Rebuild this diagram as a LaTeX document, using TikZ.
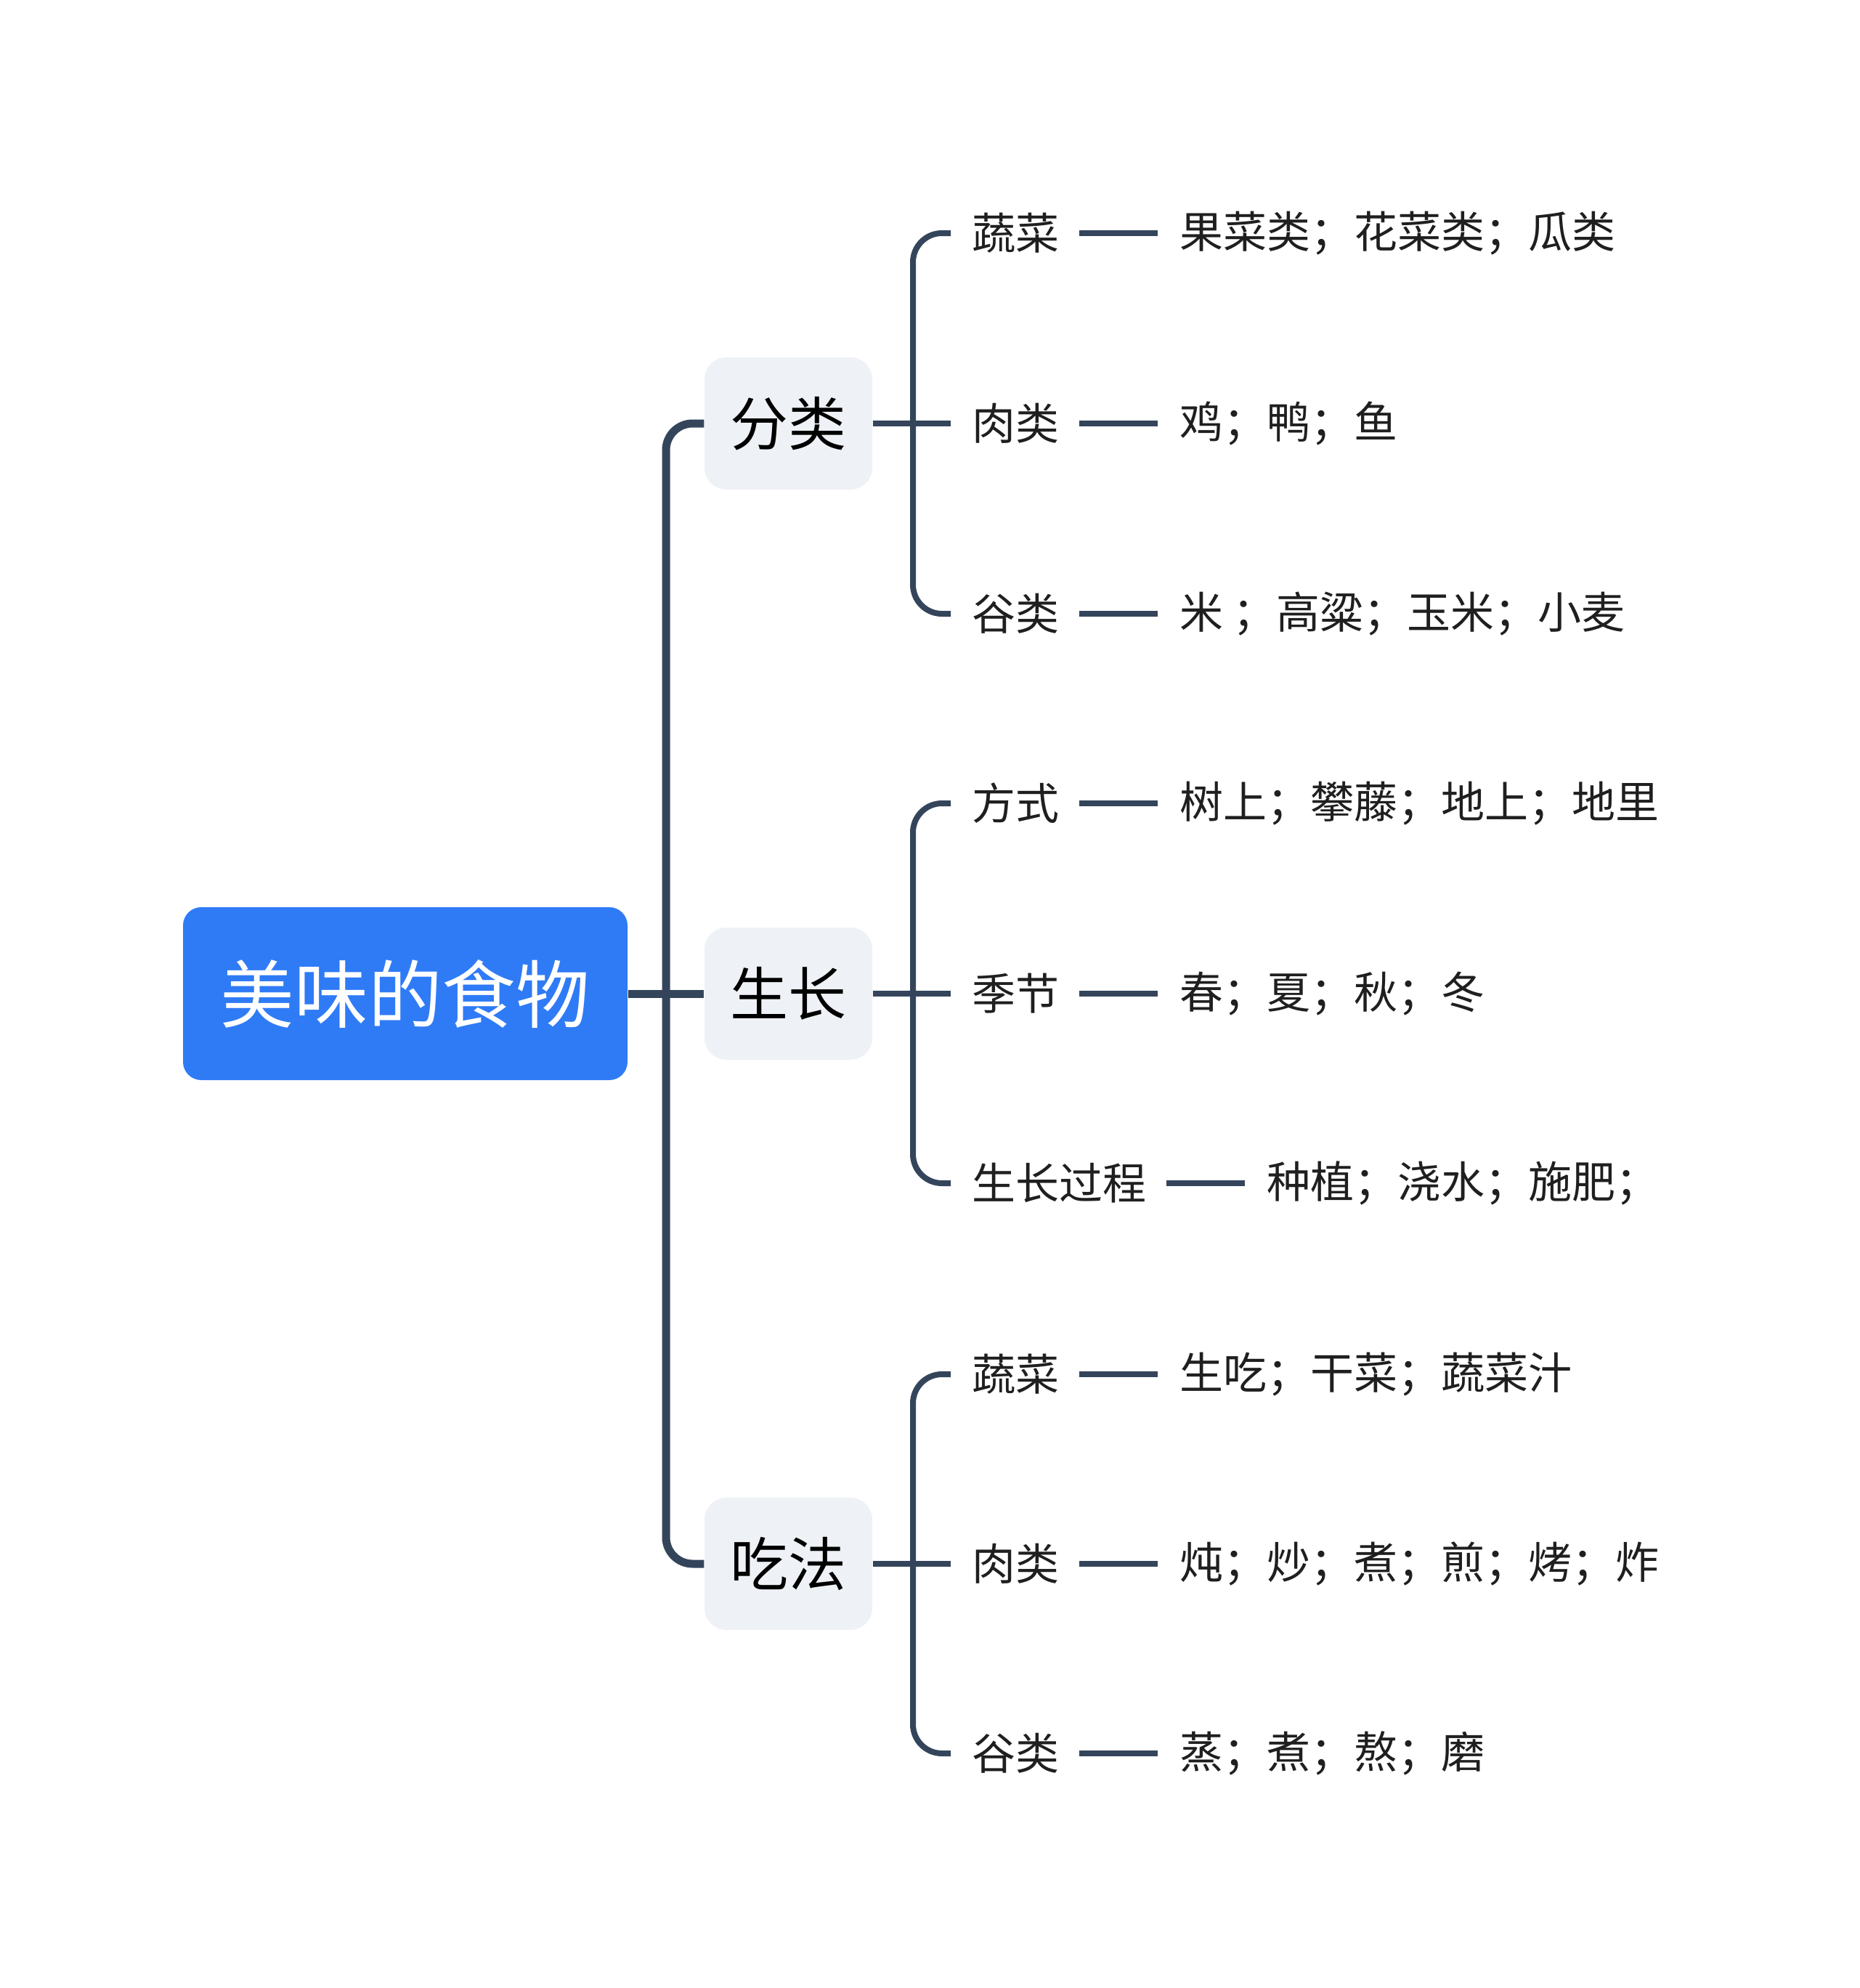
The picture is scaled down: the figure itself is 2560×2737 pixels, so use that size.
\documentclass[tikz,border=0pt]{standalone}
\usepackage{fontspec}
\setmainfont{Noto Sans CJK SC}
\usetikzlibrary{positioning}

\definecolor{linecol}{HTML}{34455B}
\definecolor{rootblue}{HTML}{2F7BF6}
\definecolor{topicgray}{HTML}{EEF1F5}
\definecolor{textcol}{HTML}{1F1F1F}

\tikzset{
  root/.style={fill=rootblue, text=white, rounded corners=7.5pt,
    minimum width=183.6pt, minimum height=71.4pt,
    font=\fontsize{30.5}{36}\selectfont},
  topic/.style={fill=topicgray, text=black, rounded corners=9pt,
    minimum width=69.3pt, minimum height=54.6pt,
    font=\fontsize{24}{29}\selectfont},
  sub/.style={anchor=west, inner sep=0pt, text=textcol,
    font=\fontsize{18}{22}\selectfont},
  trunk/.style={linecol, line width=3.3pt, rounded corners=11pt},
  twig/.style={linecol, line width=2.4pt, rounded corners=12pt},
}

\begin{document}
\begin{tikzpicture}[x=0.3pt,y=-0.3pt]
\useasboundingbox (0,0) rectangle (2560,2737);

\node[root] (root) at (558,1368) {美味的食物};
\node[topic] (t1) at (1085.5,583) {分类};
\node[topic] (t2) at (1085.5,1368) {生长};
\node[topic] (t3) at (1085.5,2153) {吃法};

% trunk
\coordinate (tk) at (917,1368);
\draw[trunk] (t1.west) -| (tk) |- (t3.west);
\draw[trunk] (root.east) -- (t2.west);

% second level and leaves
\foreach \n/\y/\a/\b in {
  a1/321/蔬菜/果菜类；花菜类；瓜类,
  a2/583/肉类/鸡；鸭；鱼,
  a3/845/谷类/米 ；高粱；玉米；小麦,
  b1/1106/方式/树上；攀藤；地上；地里,
  b2/1368/季节/春；夏；秋；冬,
  b3/1629/生长过程/种植；浇水；施肥；,
  c1/1892/蔬菜/生吃；干菜；蔬菜汁,
  c2/2153/肉类/炖；炒；煮；煎；烤；炸,
  c3/2414/谷类/蒸；煮；熬；磨}{
  \node[sub] (\n) at (1338,\y) {\a};
  \node[sub, right=49.2pt of \n] (\n-v) {\b};
  \draw[twig] ([xshift=8.1pt]\n.east) -- ([xshift=-8.7pt]\n-v.west);
}

\foreach \t/\u/\v/\w in {t1/a1/a2/a3, t2/b1/b2/b3, t3/c1/c2/c3}{
  \draw[twig] ([xshift=-8.7pt]\u.west) -| ([xshift=-24.3pt]\v.west)
    |- ([xshift=-8.7pt]\w.west);
  \draw[twig] (\t.east) -- ([xshift=-8.7pt]\v.west |- \t.east);
}
\end{tikzpicture}
\end{document}
